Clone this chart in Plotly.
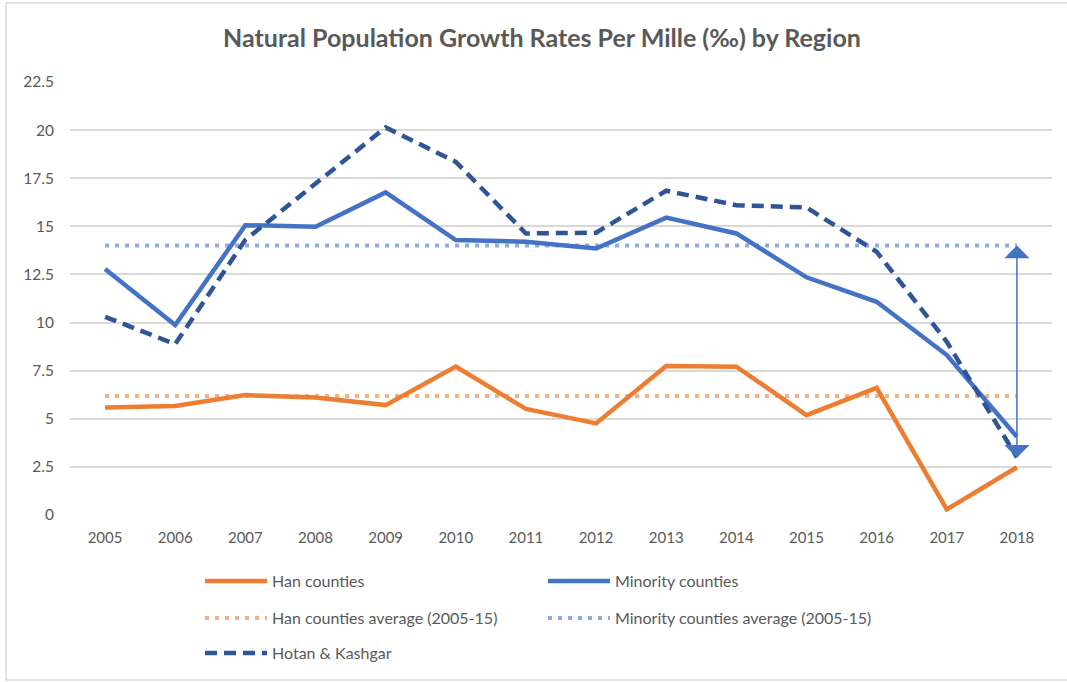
import plotly.graph_objects as go

# ---- data ----
years = [str(y) for y in range(2005, 2019)]
han_counties = [5.58, 5.66, 6.23, 6.10, 5.71, 7.71, 5.51, 4.76, 7.74, 7.71, 5.19, 6.61, 0.29, 2.48]
minority_counties = [12.78, 9.87, 15.06, 14.98, 16.76, 14.29, 14.20, 13.85, 15.45, 14.63, 12.35, 11.08, 8.31, 4.07]
hotan_kashgar = [10.30, 8.88, 14.30, 17.20, 20.14, 18.35, 14.63, 14.67, 16.85, 16.10, 15.98, 13.68, 9.00, 3.00]
han_average = [6.18] * len(years)
minority_average = [14.01] * len(years)
arrow_year_index = years.index("2018")
arrow_top = 14.0
arrow_bottom = 2.9
y_ticks = [0, 2.5, 5, 7.5, 10, 12.5, 15, 17.5, 20, 22.5]
y_tick_text = ["0", "2.5", "5", "7.5", "10", "12.5", "15", "17.5", "20", "22.5"]

# ---- style ----
ORANGE = "#ED7D31"
BLUE = "#4472C4"
LIGHT_ORANGE = "#F4B183"
LIGHT_BLUE = "#8FAADC"
DARK_BLUE = "#2F5597"
TEXT = "#595959"
GRID = "#D9D9D9"
FONT = "Lato"

W, H = 1067, 682
L, R, T, B = 70, 15, 82, 167
pw, ph = W - L - R, H - T - B


def px_x(p):
    return (p - L) / pw


def px_y(p):
    return (H - B - p) / ph


fig = go.Figure()

fig.add_trace(go.Scatter(x=years, y=han_average, mode="lines", name="Han counties average (2005-15)",
                         line=dict(color=LIGHT_ORANGE, width=4, dash="4px,6px"), legend="legend3"))
fig.add_trace(go.Scatter(x=years, y=minority_average, mode="lines", name="Minority counties average (2005-15)",
                         line=dict(color=LIGHT_BLUE, width=4, dash="4px,6px"), legend="legend4"))
fig.add_trace(go.Scatter(x=years, y=han_counties, mode="lines", name="Han counties",
                         line=dict(color=ORANGE, width=4.5), legend="legend"))
fig.add_trace(go.Scatter(x=years, y=minority_counties, mode="lines", name="Minority counties",
                         line=dict(color=BLUE, width=4.5), legend="legend2"))
fig.add_trace(go.Scatter(x=years, y=hotan_kashgar, mode="lines", name="Hotan & Kashgar",
                         line=dict(color=DARK_BLUE, width=4.5, dash="12px,7px"), legend="legend5"))

fig.add_annotation(x=arrow_year_index, y=arrow_top, ax=arrow_year_index, ay=arrow_bottom,
                   xref="x", yref="y", axref="x", ayref="y", text="", showarrow=True,
                   arrowhead=1, arrowside="end+start", arrowsize=2.8, arrowwidth=1.5,
                   arrowcolor=BLUE, standoff=0, startstandoff=0)

# chart border (Excel chart area)
fig.add_shape(type="rect", xref="paper", yref="paper",
              x0=px_x(6), x1=px_x(1080), y0=px_y(3), y1=px_y(680),
              line=dict(color=GRID, width=1.5), fillcolor="rgba(0,0,0,0)", layer="below")

legend_common = dict(orientation="h", xanchor="left", yanchor="middle",
                     itemwidth=62, traceorder="normal",
                     font=dict(family=FONT, size=16, color=TEXT), bgcolor="rgba(0,0,0,0)",
                     itemclick=False, itemdoubleclick=False)

col1, col2 = 200, 543
row1, row2, row3 = 581, 618, 653

fig.update_layout(
    width=W, height=H,
    margin=dict(l=L, r=R, t=T, b=B),
    paper_bgcolor="white", plot_bgcolor="white",
    font=dict(family=FONT, color=TEXT),
    title=dict(text="<b>Natural Population Growth Rates Per Mille (‰) by Region</b>",
               x=542 / W, xref="container", xanchor="center",
               y=1 - 38 / H, yref="container", yanchor="middle",
               font=dict(family=FONT, size=25, color=TEXT)),
    xaxis=dict(type="category", range=[-0.5, 13.5], showgrid=False, showline=False, zeroline=False,
               ticks="", tickfont=dict(family=FONT, size=15, color=TEXT), ticklabelstandoff=12,
               fixedrange=True),
    yaxis=dict(range=[0, 22.5], tickvals=y_ticks, ticktext=y_tick_text, showgrid=True,
               gridcolor=GRID, gridwidth=1.5, zeroline=False, showline=False, ticks="",
               tickfont=dict(family=FONT, size=15.5, color=TEXT), ticklabelstandoff=15,
               fixedrange=True),
    legend=dict(x=px_x(col1), y=px_y(row1), **legend_common),
    legend2=dict(x=px_x(col2), y=px_y(row1), **legend_common),
    legend3=dict(x=px_x(col1), y=px_y(row2), **legend_common),
    legend4=dict(x=px_x(col2), y=px_y(row2), **legend_common),
    legend5=dict(x=px_x(col1), y=px_y(row3), **legend_common),
    showlegend=True,
)

fig.write_html("out.html", config={"displayModeBar": False},
               post_script="document.body.style.margin='0';")
